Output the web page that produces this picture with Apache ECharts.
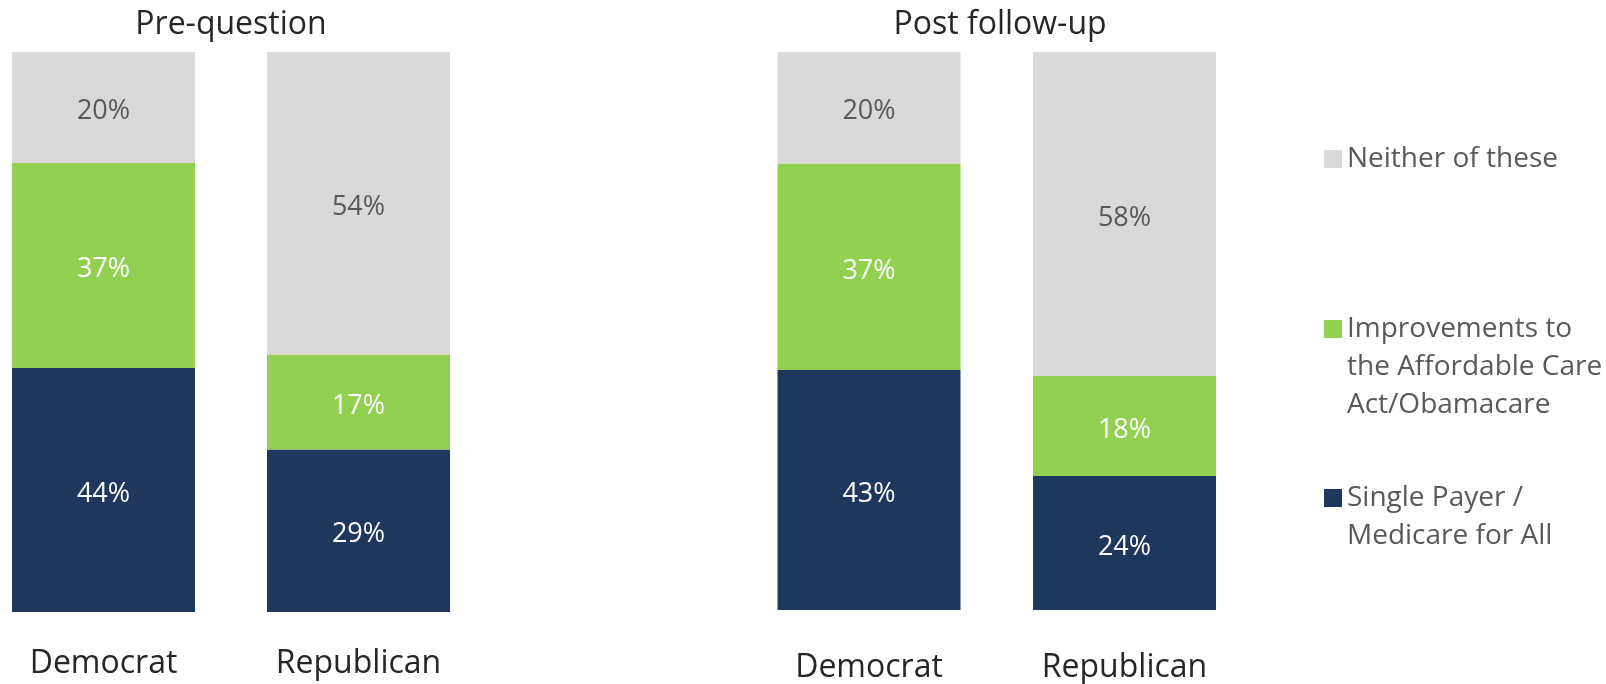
<!DOCTYPE html>
<html>
<head>
<meta charset="utf-8">
<script src="https://cdn.jsdelivr.net/npm/echarts@6/dist/echarts.min.js"></script>
<style>
html,body{margin:0;padding:0;background:#fff;}
#chart{width:1606px;height:684px;}
</style>
</head>
<body>
<div id="chart"></div>
<script>
const categories = ['Democrat', 'Republican'];
const panelTitles = ['Pre-question', 'Post follow-up'];
const seriesNames = ['Single Payer / Medicare for All', 'Improvements to the Affordable Care Act/Obamacare', 'Neither of these'];
const legendText = ['\nSingle Payer /\nMedicare for All', '\n\nImprovements to\nthe Affordable Care\nAct/Obamacare', 'Neither of these'];
const preSingle = [44, 29];
const preImprove = [37, 17];
const preNeither = [20, 54];
const postSingle = [43, 24];
const postImprove = [37, 18];
const postNeither = [20, 58];

const colors = ['#1d375d', '#92d050', '#d9d9d9'];
const labelColors = ['#ffffff', '#ffffff', '#595959'];
const FONT = 'Open Sans';

const panels = [[preSingle, preImprove, preNeither], [postSingle, postImprove, postNeither]];

const series = [];
panels.forEach((arrs, p) => {
  const sums = categories.map((c, i) => arrs.reduce((s, a) => s + a[i], 0));
  arrs.forEach((arr, k) => {
    series.push({
      name: seriesNames[k],
      type: 'bar',
      stack: 'panel' + p,
      xAxisIndex: p,
      yAxisIndex: p,
      barWidth: 183,
      itemStyle: { color: colors[k] },
      label: {
        show: true,
        position: 'inside',
        offset: [0, 4],
        color: labelColors[k],
        fontFamily: FONT,
        fontSize: 27,
        formatter: (prm) => arr[prm.dataIndex] + '%'
      },
      data: arr.map((v, i) => v / sums[i] * 100)
    });
  });
});

const legendTops = [441, 234, 140];
const legends = seriesNames.map((n, k) => ({
  data: [n],
  left: 1324,
  top: legendTops[k],
  orient: 'vertical',
  padding: 0,
  itemWidth: 18,
  itemHeight: 18,
  icon: 'rect',
  selectedMode: false,
  formatter: () => legendText[k],
  textStyle: { fontFamily: FONT, fontSize: 28, color: '#595959', lineHeight: 38 }
}));

const option = {
  animation: false,
  backgroundColor: '#ffffff',
  title: panelTitles.map((t, p) => ({
    text: t,
    left: p === 0 ? 231 : 1000,
    top: 9,
    padding: 0,
    textAlign: 'center',
    textStyle: { fontFamily: FONT, fontSize: 32, fontWeight: 'normal', color: '#262626' }
  })),
  legend: legends,
  grid: [
    { left: 103.5, width: 255, top: 52, height: 560 },
    { left: 869, width: 255.5, top: 52, height: 560 }
  ],
  xAxis: [0, 1].map(p => ({
    type: 'category',
    gridIndex: p,
    data: categories,
    boundaryGap: false,
    axisLine: { show: false },
    axisTick: { show: false },
    splitLine: { show: false },
    axisLabel: { fontFamily: FONT, fontSize: 32, color: '#262626', margin: p === 0 ? 36 : 42 }
  })),
  yAxis: [0, 1].map(p => ({
    type: 'value',
    gridIndex: p,
    min: 0,
    max: 100,
    show: false
  })),
  series: series
};

const chart = echarts.init(document.getElementById('chart'));
chart.setOption(option);
</script>
</body>
</html>
